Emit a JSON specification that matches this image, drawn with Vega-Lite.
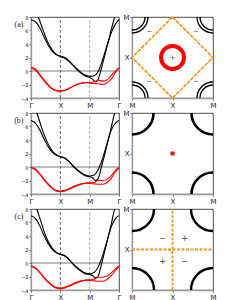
{
"$schema":"https://vega.github.io/schema/vega-lite/v6.json",
"padding":{"left":13,"top":12,"right":5,"bottom":5},
"background":"white",
"datasets":{
"bands":[
{"p":"a","s":"b1","x":0,"y":7.6},{"p":"a","s":"b1","x":0.15,"y":7.3},{"p":"a","s":"b1","x":0.3,"y":6.4},{"p":"a","s":"b1","x":0.45,"y":5.0},{"p":"a","s":"b1","x":0.6,"y":3.7},{"p":"a","s":"b1","x":0.75,"y":2.8},{"p":"a","s":"b1","x":0.9,"y":2.35},{"p":"a","s":"b1","x":1,"y":2.2},{"p":"a","s":"b1","x":1.15,"y":2.0},{"p":"a","s":"b1","x":1.3,"y":1.5},{"p":"a","s":"b1","x":1.5,"y":0.6},{"p":"a","s":"b1","x":1.7,"y":-0.2},{"p":"a","s":"b1","x":1.85,"y":-0.6},{"p":"a","s":"b1","x":2,"y":-0.8},{"p":"a","s":"b1","x":2.15,"y":-0.7},{"p":"a","s":"b1","x":2.3,"y":0.0},{"p":"a","s":"b1","x":2.45,"y":1.8},{"p":"a","s":"b1","x":2.6,"y":3.9},{"p":"a","s":"b1","x":2.75,"y":5.8},{"p":"a","s":"b1","x":2.9,"y":7.1},{"p":"a","s":"b1","x":3,"y":7.6},
{"p":"a","s":"b2","x":0.1,"y":9.5},{"p":"a","s":"b2","x":0.25,"y":8.0},{"p":"a","s":"b2","x":0.4,"y":6.2},{"p":"a","s":"b2","x":0.55,"y":4.5},{"p":"a","s":"b2","x":0.7,"y":3.3},{"p":"a","s":"b2","x":0.85,"y":2.5},{"p":"a","s":"b2","x":1,"y":2.15},{"p":"a","s":"b2","x":1.15,"y":1.9},{"p":"a","s":"b2","x":1.3,"y":1.4},{"p":"a","s":"b2","x":1.5,"y":0.5},{"p":"a","s":"b2","x":1.7,"y":-0.3},{"p":"a","s":"b2","x":1.85,"y":-0.75},{"p":"a","s":"b2","x":2,"y":-0.95},{"p":"a","s":"b2","x":2.1,"y":-1.2},{"p":"a","s":"b2","x":2.2,"y":-1.6},{"p":"a","s":"b2","x":2.28,"y":-1.3},{"p":"a","s":"b2","x":2.4,"y":0.4},{"p":"a","s":"b2","x":2.55,"y":2.9},{"p":"a","s":"b2","x":2.7,"y":5.5},{"p":"a","s":"b2","x":2.85,"y":8.0},{"p":"a","s":"b2","x":2.95,"y":9.5},
{"p":"a","s":"r1","x":0,"y":0.6},{"p":"a","s":"r1","x":0.15,"y":0.3},{"p":"a","s":"r1","x":0.3,"y":-0.5},{"p":"a","s":"r1","x":0.5,"y":-1.6},{"p":"a","s":"r1","x":0.7,"y":-2.5},{"p":"a","s":"r1","x":0.85,"y":-2.85},{"p":"a","s":"r1","x":1,"y":-2.95},{"p":"a","s":"r1","x":1.15,"y":-2.85},{"p":"a","s":"r1","x":1.35,"y":-2.45},{"p":"a","s":"r1","x":1.55,"y":-2.0},{"p":"a","s":"r1","x":1.75,"y":-1.75},{"p":"a","s":"r1","x":1.9,"y":-1.7},{"p":"a","s":"r1","x":2,"y":-1.7},{"p":"a","s":"r1","x":2.15,"y":-1.6},{"p":"a","s":"r1","x":2.3,"y":-1.35},{"p":"a","s":"r1","x":2.45,"y":-1.5},{"p":"a","s":"r1","x":2.6,"y":-1.3},{"p":"a","s":"r1","x":2.75,"y":-0.6},{"p":"a","s":"r1","x":2.9,"y":0.1},{"p":"a","s":"r1","x":3,"y":0.5},
{"p":"a","s":"r2","x":0,"y":0.4},{"p":"a","s":"r2","x":0.15,"y":0.15},{"p":"a","s":"r2","x":0.3,"y":-0.65},{"p":"a","s":"r2","x":0.5,"y":-1.75},{"p":"a","s":"r2","x":0.7,"y":-2.6},{"p":"a","s":"r2","x":0.85,"y":-2.92},{"p":"a","s":"r2","x":1,"y":-3.0},{"p":"a","s":"r2","x":1.15,"y":-2.9},{"p":"a","s":"r2","x":1.35,"y":-2.5},{"p":"a","s":"r2","x":1.55,"y":-2.05},{"p":"a","s":"r2","x":1.75,"y":-1.8},{"p":"a","s":"r2","x":1.9,"y":-1.75},{"p":"a","s":"r2","x":2,"y":-1.8},{"p":"a","s":"r2","x":2.15,"y":-1.85},{"p":"a","s":"r2","x":2.3,"y":-1.9},{"p":"a","s":"r2","x":2.45,"y":-2.0},{"p":"a","s":"r2","x":2.6,"y":-1.75},{"p":"a","s":"r2","x":2.75,"y":-1.1},{"p":"a","s":"r2","x":2.9,"y":-0.1},{"p":"a","s":"r2","x":3,"y":0.4},
{"p":"b","s":"b1","x":0,"y":6.9},{"p":"b","s":"b1","x":0.15,"y":6.5},{"p":"b","s":"b1","x":0.3,"y":5.5},{"p":"b","s":"b1","x":0.45,"y":4.1},{"p":"b","s":"b1","x":0.6,"y":2.9},{"p":"b","s":"b1","x":0.75,"y":2.1},{"p":"b","s":"b1","x":0.9,"y":1.7},{"p":"b","s":"b1","x":1,"y":1.55},{"p":"b","s":"b1","x":1.15,"y":1.35},{"p":"b","s":"b1","x":1.3,"y":0.8},{"p":"b","s":"b1","x":1.5,"y":-0.1},{"p":"b","s":"b1","x":1.7,"y":-0.8},{"p":"b","s":"b1","x":1.85,"y":-1.2},{"p":"b","s":"b1","x":2,"y":-1.35},{"p":"b","s":"b1","x":2.15,"y":-1.2},{"p":"b","s":"b1","x":2.3,"y":-0.3},{"p":"b","s":"b1","x":2.45,"y":1.4},{"p":"b","s":"b1","x":2.6,"y":3.6},{"p":"b","s":"b1","x":2.75,"y":5.6},{"p":"b","s":"b1","x":2.9,"y":6.6},{"p":"b","s":"b1","x":3,"y":6.9},
{"p":"b","s":"b2","x":0.1,"y":9.0},{"p":"b","s":"b2","x":0.2,"y":8.0},{"p":"b","s":"b2","x":0.35,"y":6.0},{"p":"b","s":"b2","x":0.5,"y":4.2},{"p":"b","s":"b2","x":0.65,"y":2.9},{"p":"b","s":"b2","x":0.8,"y":2.0},{"p":"b","s":"b2","x":0.92,"y":1.65},{"p":"b","s":"b2","x":1,"y":1.5},{"p":"b","s":"b2","x":1.15,"y":1.3},{"p":"b","s":"b2","x":1.3,"y":0.75},{"p":"b","s":"b2","x":1.5,"y":-0.2},{"p":"b","s":"b2","x":1.7,"y":-0.9},{"p":"b","s":"b2","x":1.85,"y":-1.3},{"p":"b","s":"b2","x":2,"y":-1.45},{"p":"b","s":"b2","x":2.1,"y":-1.6},{"p":"b","s":"b2","x":2.2,"y":-2.0},{"p":"b","s":"b2","x":2.28,"y":-1.8},{"p":"b","s":"b2","x":2.4,"y":0.0},{"p":"b","s":"b2","x":2.55,"y":2.5},{"p":"b","s":"b2","x":2.7,"y":5.2},{"p":"b","s":"b2","x":2.85,"y":8.0},{"p":"b","s":"b2","x":2.95,"y":9.5},
{"p":"b","s":"r1","x":0,"y":-0.05},{"p":"b","s":"r1","x":0.15,"y":-0.3},{"p":"b","s":"r1","x":0.3,"y":-1.0},{"p":"b","s":"r1","x":0.5,"y":-2.1},{"p":"b","s":"r1","x":0.7,"y":-3.0},{"p":"b","s":"r1","x":0.85,"y":-3.45},{"p":"b","s":"r1","x":1,"y":-3.55},{"p":"b","s":"r1","x":1.15,"y":-3.45},{"p":"b","s":"r1","x":1.35,"y":-3.1},{"p":"b","s":"r1","x":1.55,"y":-2.7},{"p":"b","s":"r1","x":1.75,"y":-2.45},{"p":"b","s":"r1","x":1.9,"y":-2.35},{"p":"b","s":"r1","x":2,"y":-2.35},{"p":"b","s":"r1","x":2.15,"y":-2.3},{"p":"b","s":"r1","x":2.3,"y":-2.0},{"p":"b","s":"r1","x":2.45,"y":-2.0},{"p":"b","s":"r1","x":2.6,"y":-1.8},{"p":"b","s":"r1","x":2.75,"y":-1.2},{"p":"b","s":"r1","x":2.9,"y":-0.4},{"p":"b","s":"r1","x":3,"y":-0.05},
{"p":"b","s":"r2","x":0,"y":-0.15},{"p":"b","s":"r2","x":0.15,"y":-0.4},{"p":"b","s":"r2","x":0.3,"y":-1.1},{"p":"b","s":"r2","x":0.5,"y":-2.2},{"p":"b","s":"r2","x":0.7,"y":-3.1},{"p":"b","s":"r2","x":0.85,"y":-3.55},{"p":"b","s":"r2","x":1,"y":-3.65},{"p":"b","s":"r2","x":1.15,"y":-3.55},{"p":"b","s":"r2","x":1.35,"y":-3.2},{"p":"b","s":"r2","x":1.55,"y":-2.8},{"p":"b","s":"r2","x":1.75,"y":-2.5},{"p":"b","s":"r2","x":1.9,"y":-2.4},{"p":"b","s":"r2","x":2,"y":-2.45},{"p":"b","s":"r2","x":2.15,"y":-2.5},{"p":"b","s":"r2","x":2.3,"y":-2.55},{"p":"b","s":"r2","x":2.45,"y":-2.55},{"p":"b","s":"r2","x":2.6,"y":-2.3},{"p":"b","s":"r2","x":2.75,"y":-1.6},{"p":"b","s":"r2","x":2.9,"y":-0.6},{"p":"b","s":"r2","x":3,"y":-0.15},
{"p":"c","s":"b1","x":0,"y":7.0},{"p":"c","s":"b1","x":0.15,"y":6.6},{"p":"c","s":"b1","x":0.3,"y":5.5},{"p":"c","s":"b1","x":0.45,"y":4.0},{"p":"c","s":"b1","x":0.6,"y":2.8},{"p":"c","s":"b1","x":0.75,"y":1.9},{"p":"c","s":"b1","x":0.9,"y":1.45},{"p":"c","s":"b1","x":1,"y":1.3},{"p":"c","s":"b1","x":1.15,"y":1.1},{"p":"c","s":"b1","x":1.3,"y":0.5},{"p":"c","s":"b1","x":1.5,"y":-0.4},{"p":"c","s":"b1","x":1.7,"y":-1.1},{"p":"c","s":"b1","x":1.85,"y":-1.5},{"p":"c","s":"b1","x":2,"y":-1.6},{"p":"c","s":"b1","x":2.15,"y":-1.4},{"p":"c","s":"b1","x":2.3,"y":-0.5},{"p":"c","s":"b1","x":2.45,"y":1.2},{"p":"c","s":"b1","x":2.6,"y":3.4},{"p":"c","s":"b1","x":2.75,"y":5.5},{"p":"c","s":"b1","x":2.9,"y":6.7},{"p":"c","s":"b1","x":3,"y":7.0},
{"p":"c","s":"b2","x":0.1,"y":9.5},{"p":"c","s":"b2","x":0.2,"y":8.0},{"p":"c","s":"b2","x":0.35,"y":6.0},{"p":"c","s":"b2","x":0.5,"y":4.0},{"p":"c","s":"b2","x":0.65,"y":2.7},{"p":"c","s":"b2","x":0.8,"y":1.8},{"p":"c","s":"b2","x":0.92,"y":1.4},{"p":"c","s":"b2","x":1,"y":1.25},{"p":"c","s":"b2","x":1.15,"y":1.05},{"p":"c","s":"b2","x":1.3,"y":0.45},{"p":"c","s":"b2","x":1.5,"y":-0.5},{"p":"c","s":"b2","x":1.7,"y":-1.2},{"p":"c","s":"b2","x":1.85,"y":-1.6},{"p":"c","s":"b2","x":2,"y":-1.7},{"p":"c","s":"b2","x":2.1,"y":-1.85},{"p":"c","s":"b2","x":2.2,"y":-2.2},{"p":"c","s":"b2","x":2.28,"y":-2.0},{"p":"c","s":"b2","x":2.4,"y":-0.2},{"p":"c","s":"b2","x":2.55,"y":2.4},{"p":"c","s":"b2","x":2.7,"y":5.1},{"p":"c","s":"b2","x":2.85,"y":8.0},{"p":"c","s":"b2","x":2.95,"y":9.5},
{"p":"c","s":"r1","x":0,"y":-0.4},{"p":"c","s":"r1","x":0.15,"y":-0.7},{"p":"c","s":"r1","x":0.3,"y":-1.35},{"p":"c","s":"r1","x":0.5,"y":-2.4},{"p":"c","s":"r1","x":0.7,"y":-3.2},{"p":"c","s":"r1","x":0.85,"y":-3.6},{"p":"c","s":"r1","x":1,"y":-3.7},{"p":"c","s":"r1","x":1.15,"y":-3.6},{"p":"c","s":"r1","x":1.35,"y":-3.25},{"p":"c","s":"r1","x":1.55,"y":-2.85},{"p":"c","s":"r1","x":1.75,"y":-2.6},{"p":"c","s":"r1","x":1.9,"y":-2.5},{"p":"c","s":"r1","x":2,"y":-2.5},{"p":"c","s":"r1","x":2.15,"y":-2.4},{"p":"c","s":"r1","x":2.3,"y":-2.1},{"p":"c","s":"r1","x":2.45,"y":-2.1},{"p":"c","s":"r1","x":2.6,"y":-1.9},{"p":"c","s":"r1","x":2.75,"y":-1.4},{"p":"c","s":"r1","x":2.9,"y":-0.8},{"p":"c","s":"r1","x":3,"y":-0.4},
{"p":"c","s":"r2","x":0,"y":-0.5},{"p":"c","s":"r2","x":0.15,"y":-0.8},{"p":"c","s":"r2","x":0.3,"y":-1.45},{"p":"c","s":"r2","x":0.5,"y":-2.5},{"p":"c","s":"r2","x":0.7,"y":-3.3},{"p":"c","s":"r2","x":0.85,"y":-3.7},{"p":"c","s":"r2","x":1,"y":-3.8},{"p":"c","s":"r2","x":1.15,"y":-3.7},{"p":"c","s":"r2","x":1.35,"y":-3.35},{"p":"c","s":"r2","x":1.55,"y":-2.95},{"p":"c","s":"r2","x":1.75,"y":-2.65},{"p":"c","s":"r2","x":1.9,"y":-2.55},{"p":"c","s":"r2","x":2,"y":-2.6},{"p":"c","s":"r2","x":2.15,"y":-2.65},{"p":"c","s":"r2","x":2.3,"y":-2.7},{"p":"c","s":"r2","x":2.45,"y":-2.7},{"p":"c","s":"r2","x":2.6,"y":-2.4},{"p":"c","s":"r2","x":2.75,"y":-1.8},{"p":"c","s":"r2","x":2.9,"y":-1.0},{"p":"c","s":"r2","x":3,"y":-0.5}
],
"guides":[{"k":"X","x":1,"y":-4},{"k":"X","x":1,"y":8},{"k":"M","x":2,"y":-4},{"k":"M","x":2,"y":8},{"k":"E","x":0,"y":0},{"k":"E","x":3,"y":0}],
"corners":[{"x":0,"y":0},{"x":1,"y":0},{"x":0,"y":1},{"x":1,"y":1}],
"center":[{"x":0.5,"y":0.5}],
"diamond":[{"x":0.5,"y":1,"o":0},{"x":1,"y":0.5,"o":1},{"x":0.5,"y":0,"o":2},{"x":0,"y":0.5,"o":3},{"x":0.5,"y":1,"o":4}],
"cross":[{"g":"v","x":0.5,"y":0},{"g":"v","x":0.5,"y":1},{"g":"h","x":0,"y":0.5},{"g":"h","x":1,"y":0.5}],
"signsA":[{"x":0.5,"y":0.5,"t":"+"},{"x":0.21,"y":0.83,"t":"−"},{"x":0.79,"y":0.83,"t":"−"},{"x":0.21,"y":0.21,"t":"−"},{"x":0.79,"y":0.21,"t":"−"}],
"signsC":[{"x":0.38,"y":0.625,"t":"−"},{"x":0.65,"y":0.625,"t":"+"},{"x":0.38,"y":0.35,"t":"+"},{"x":0.65,"y":0.35,"t":"−"}]
},
"columns":2,
"spacing":{"row":15,"column":13},
"bounds":"flush",
"concat":[
 {"width":88,"height":81,
  "encoding":{"x":{"field":"x","type":"quantitative","scale":{"domain":[0,3],"nice":false},"axis":{"values":[0,1,2,3],"labelExpr":"datum.value==1?'X':datum.value==2?'M':'Γ'","title":null}},
   "y":{"field":"y","type":"quantitative","scale":{"domain":[-4,8],"nice":false},"axis":{"values":[-4,-2,0,2,4,6,8],"labelFontSize":5,"title":"(a)"}}},
  "layer":[
  {"data":{"name":"guides"},"mark":{"type":"line","strokeWidth":0.8},"encoding":{"detail":{"field":"k"},"stroke":{"field":"k","type":"nominal","scale":{"domain":["X","M","E"],"range":["#333333","#999999","#555555"]},"legend":null},"strokeDash":{"field":"k","type":"nominal","scale":{"domain":["X","M","E"],"range":[[3,2],[3,2],[1,0]]},"legend":null}}},
  {"data":{"name":"bands"},"transform":[{"filter":"datum.p=='a'"}],"mark":{"type":"line","clip":true,"interpolate":"monotone","strokeWidth":1.1},
   "encoding":{"color":{"field":"s","type":"nominal","scale":{"domain":["b1","b2","r1","r2"],"range":["#000000","#000000","#ff0000","#ff0000"]},"legend":null}}}
 ]},
 {"width":81,"height":81,
  "encoding":{"x":{"field":"x","type":"quantitative","scale":{"domain":[0,1],"nice":false},"axis":{"values":[0,0.5,1],"labelExpr":"datum.value==0.5?'X':'M'","title":null}},
   "y":{"field":"y","type":"quantitative","scale":{"domain":[0,1],"nice":false},"axis":{"values":[0.5,1],"labelExpr":"datum.value==0.5?'X':'M'","title":null}}},
  "layer":[
  {"data":{"name":"diamond"},"mark":{"type":"line","color":"#f7941d","strokeWidth":1.6,"strokeDash":[4,1]},"encoding":{"order":{"field":"o"}}},
  {"data":{"name":"center"},"mark":{"type":"point","shape":"circle","filled":false,"size":529,"stroke":"#ff0000","strokeWidth":4,"opacity":1}},
  {"data":{"name":"corners"},"mark":{"type":"point","shape":"circle","filled":false,"size":676,"stroke":"#000","strokeWidth":1.3,"opacity":1,"clip":true}},
  {"data":{"name":"corners"},"mark":{"type":"point","shape":"circle","filled":false,"size":1024,"stroke":"#000","strokeWidth":1.3,"opacity":1,"clip":true}},
  {"data":{"name":"signsA"},"mark":{"type":"text","fontSize":9,"color":"#555"},"encoding":{"text":{"field":"t"}}}
 ]},
 {"width":88,"height":81,
  "encoding":{"x":{"field":"x","type":"quantitative","scale":{"domain":[0,3],"nice":false},"axis":{"values":[0,1,2,3],"labelExpr":"datum.value==1?'X':datum.value==2?'M':'Γ'","title":null}},
   "y":{"field":"y","type":"quantitative","scale":{"domain":[-4,8],"nice":false},"axis":{"values":[-4,-2,0,2,4,6,8],"labelFontSize":5,"title":"(b)"}}},
  "layer":[
  {"data":{"name":"guides"},"mark":{"type":"line","strokeWidth":0.8},"encoding":{"detail":{"field":"k"},"stroke":{"field":"k","type":"nominal","scale":{"domain":["X","M","E"],"range":["#333333","#999999","#555555"]},"legend":null},"strokeDash":{"field":"k","type":"nominal","scale":{"domain":["X","M","E"],"range":[[3,2],[3,2],[1,0]]},"legend":null}}},
  {"data":{"name":"bands"},"transform":[{"filter":"datum.p=='b'"}],"mark":{"type":"line","clip":true,"interpolate":"monotone","strokeWidth":1.1},
   "encoding":{"color":{"field":"s","type":"nominal","scale":{"domain":["b1","b2","r1","r2"],"range":["#000000","#000000","#ff0000","#ff0000"]},"legend":null}}}
 ]},
 {"width":81,"height":81,
  "encoding":{"x":{"field":"x","type":"quantitative","scale":{"domain":[0,1],"nice":false},"axis":{"values":[0,0.5,1],"labelExpr":"datum.value==0.5?'X':'M'","title":null}},
   "y":{"field":"y","type":"quantitative","scale":{"domain":[0,1],"nice":false},"axis":{"values":[0.5,1],"labelExpr":"datum.value==0.5?'X':'M'","title":null}}},
  "layer":[
  {"data":{"name":"corners"},"mark":{"type":"point","shape":"circle","filled":false,"size":1849,"stroke":"#000","strokeWidth":2.6,"opacity":1,"clip":true}},
  {"data":{"name":"center"},"mark":{"type":"point","shape":"circle","filled":true,"size":20,"color":"#ff0000","opacity":1}}
 ]},
 {"width":88,"height":81,
  "encoding":{"x":{"field":"x","type":"quantitative","scale":{"domain":[0,3],"nice":false},"axis":{"values":[0,1,2,3],"labelExpr":"datum.value==1?'X':datum.value==2?'M':'Γ'","title":null}},
   "y":{"field":"y","type":"quantitative","scale":{"domain":[-4,8],"nice":false},"axis":{"values":[-4,-2,0,2,4,6,8],"labelFontSize":5,"title":"(c)"}}},
  "layer":[
  {"data":{"name":"guides"},"mark":{"type":"line","strokeWidth":0.8},"encoding":{"detail":{"field":"k"},"stroke":{"field":"k","type":"nominal","scale":{"domain":["X","M","E"],"range":["#333333","#999999","#555555"]},"legend":null},"strokeDash":{"field":"k","type":"nominal","scale":{"domain":["X","M","E"],"range":[[3,2],[3,2],[1,0]]},"legend":null}}},
  {"data":{"name":"bands"},"transform":[{"filter":"datum.p=='c'"}],"mark":{"type":"line","clip":true,"interpolate":"monotone","strokeWidth":1.1},
   "encoding":{"color":{"field":"s","type":"nominal","scale":{"domain":["b1","b2","r1","r2"],"range":["#000000","#000000","#ff0000","#ff0000"]},"legend":null}}}
 ]},
 {"width":81,"height":81,
  "encoding":{"x":{"field":"x","type":"quantitative","scale":{"domain":[0,1],"nice":false},"axis":{"values":[0,0.5,1],"labelExpr":"datum.value==0.5?'X':'M'","title":null}},
   "y":{"field":"y","type":"quantitative","scale":{"domain":[0,1],"nice":false},"axis":{"values":[0.5,1],"labelExpr":"datum.value==0.5?'X':'M'","title":null}}},
  "layer":[
  {"data":{"name":"cross"},"mark":{"type":"line","color":"#f7941d","strokeWidth":1.8,"strokeDash":[3,1.5]},"encoding":{"detail":{"field":"g"}}},
  {"data":{"name":"corners"},"mark":{"type":"point","shape":"circle","filled":false,"size":1936,"stroke":"#000","strokeWidth":2.4,"opacity":1,"clip":true}},
  {"data":{"name":"signsC"},"mark":{"type":"text","fontSize":10,"color":"#555"},"encoding":{"text":{"field":"t"}}}
 ]}
],
"config":{
 "view":{"stroke":"#222","strokeWidth":0.8},
 "axis":{"grid":false,"labelFont":"DejaVu Sans","labelFontSize":7,"labelColor":"#222","tickSize":2,"tickColor":"#666","labelPadding":1,"domainColor":"#999","domainWidth":1.3,"labelFlush":false,"labelOverlap":false,
  "titleFont":"Liberation Serif","titleFontSize":8,"titleFontWeight":"normal","titleAngle":0,"titleAlign":"right","titleBaseline":"middle","titleX":-8,"titleY":7,"titleColor":"#222"}
}
}
